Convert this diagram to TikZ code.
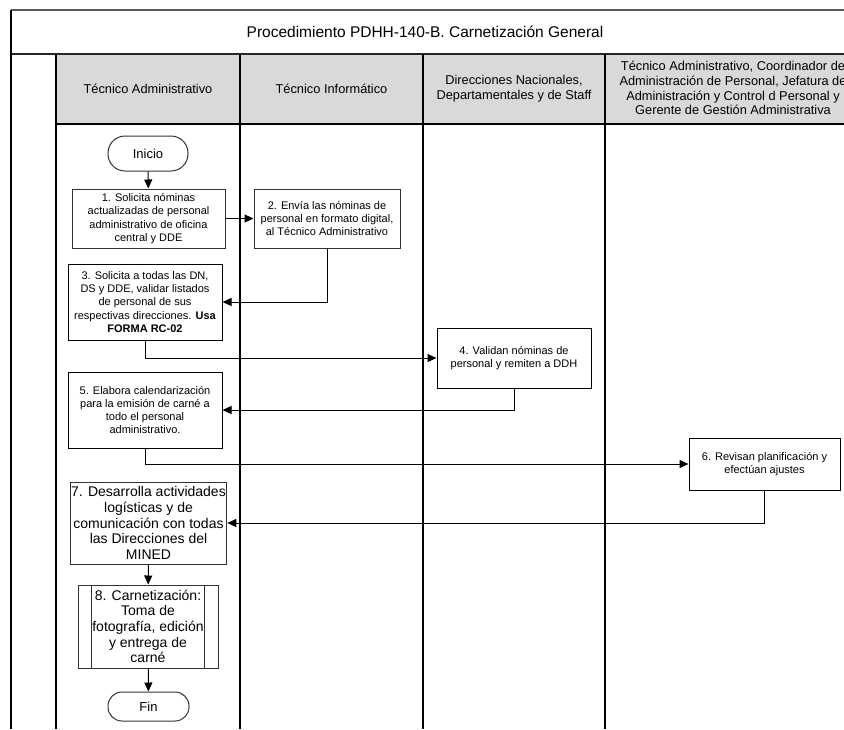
\documentclass[tikz,border=0pt]{standalone}
\usepackage{fontspec}
\setmainfont{Liberation Sans}
\usetikzlibrary{arrows.meta}
\definecolor{headfill}{RGB}{217,217,217}
\definecolor{boxline}{RGB}{50,50,50}
\begin{document}
\begin{tikzpicture}[x=1pt,y=-1pt,
  lane/.style={line width=1.4pt, black},
  headtext/.style={align=center, font=\fontsize{12.8}{14.8}\selectfont},
  stepbox/.style={draw=boxline, line width=1pt, align=center, inner sep=1pt,
    font=\fontsize{11}{13.3}\selectfont},
  bigbox/.style={stepbox, font=\fontsize{14}{15.7}\selectfont},
  term/.style={draw=boxline, line width=1pt, align=center, inner sep=1pt,
    font=\fontsize{13}{15}\selectfont},
  flow/.style={line width=1pt, draw=black, -{Triangle[length=9pt,width=8pt]}},
]
\useasboundingbox (0,0) rectangle (844,729);

% title row and swimlane frame
\fill[headfill] (56,54) rectangle (844,124);
\draw[line width=1.4pt, gray!70!black] (11,10) -- (844,10);
\draw[line width=2pt, black!85] (11,54) -- (844,54);
\draw[lane] (56,124) -- (844,124);
\draw[lane] (11,10) -- (11,729);
\draw[lane] (56,54) -- (56,729);
\draw[lane] (240,54) -- (240,729);
\draw[lane] (423,54) -- (423,729);
\draw[lane] (605,54) -- (605,729);

\node[font=\fontsize{15.5}{18}\selectfont] (title) at (425,32)
  {Procedimiento PDHH-140-B. Carnetización General};

% lane headers
\node[headtext] (h1) at (148,89) {Técnico Administrativo};
\node[headtext] (h2) at (331.5,89) {Técnico Informático};
\node[headtext] (h3) at (514,89) {Direcciones Nacionales,\\Departamentales y de Staff};
\node[headtext] (h4) at (733,88) {Técnico Administrativo, Coordinador de\\Administración de Personal, Jefatura de\\Administración y Control d Personal y\\Gerente de Gestión Administrativa};

% steps
\node[term, minimum width=80pt, minimum height=35pt, rounded corners=17pt] (ini) at (148,153.5) {Inicio};
\node[stepbox, minimum width=153pt, minimum height=59pt] (b1) at (148.5,218.5)
  {1. Solicita nóminas\\actualizadas de personal\\administrativo de oficina\\central y DDE};
\node[stepbox, minimum width=146pt, minimum height=59pt] (b2) at (327,218.5)
  {2. Envía las nóminas de\\personal en formato digital,\\al Técnico Administrativo};
\node[stepbox, draw=black, minimum width=154pt, minimum height=76pt] (b3) at (145,302)
  {3. Solicita a todas las DN,\\DS y DDE, validar listados\\de personal de sus\\respectivas direcciones. \textbf{Usa}\\\textbf{FORMA RC-02}};
\node[stepbox, draw=black, minimum width=154pt, minimum height=60pt] (b4) at (514,358)
  {4. Validan nóminas de\\personal y remiten a DDH};
\node[stepbox, draw=black, minimum width=154pt, minimum height=76pt] (b5) at (145,410)
  {5. Elabora calendarización\\para la emisión de carné a\\todo el personal\\administrativo.};
\node[stepbox, draw=black, minimum width=151pt, minimum height=52pt] (b6) at (764.5,464)
  {6. Revisan planificación y\\efectúan ajustes};
\node[bigbox, minimum width=153pt, minimum height=82pt] (b7) at (148.5,523)
  {7. Desarrolla actividades\\logísticas y de\\comunicación con todas\\las Direcciones del\\MINED};
\node[bigbox, minimum width=140pt, minimum height=83pt] (b8) at (148,626.5)
  {8. Carnetización:\\Toma de\\fotografía, edición\\y entrega de\\carné};
\draw[boxline, line width=1pt] ([xshift=14pt]b8.north west) -- ([xshift=14pt]b8.south west);
\draw[boxline, line width=1pt] ([xshift=-14pt]b8.north east) -- ([xshift=-14pt]b8.south east);
\node[term, minimum width=81pt, minimum height=29pt, rounded corners=14pt] (fin) at (148.5,706.5) {Fin};

% connectors
\draw[flow] (ini) -- (b1);
\draw[flow] (b1) -- (b2);
\draw[flow] (b2.south) |- (b3.east);
\draw[flow] (b3.south) |- (b4.west);
\draw[flow] (b4.south) |- (b5.east);
\draw[flow] (b5.south) |- (b6.west);
\draw[flow] (b6.south) |- (b7.east);
\draw[flow] (b7) -- (b8);
\draw[flow] (b8) -- (fin);
\end{tikzpicture}
\end{document}
